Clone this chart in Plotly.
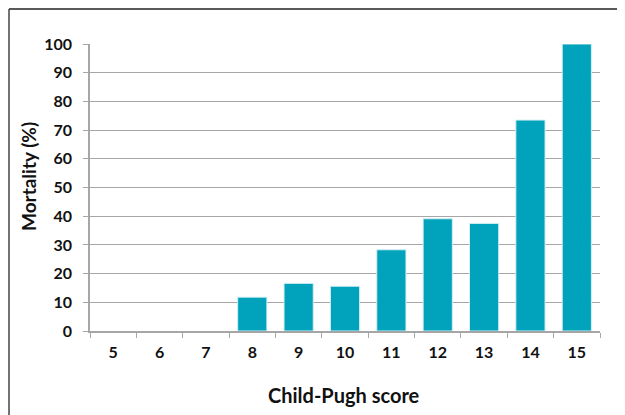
import plotly.graph_objects as go

scores = ["5", "6", "7", "8", "9", "10", "11", "12", "13", "14", "15"]
mortality = [0, 0, 0, 11.8, 16.6, 15.6, 28.3, 39.1, 37.5, 73.5, 100]
y_ticks = [0, 10, 20, 30, 40, 50, 60, 70, 80, 90, 100]

# page has an 8px body margin, so the figure is drawn 8px smaller and offset
W, H = 617, 407
ml, mr, mt, mb = 82, 25, 36, 84
pw, ph = W - ml - mr, H - mt - mb

fig = go.Figure(go.Bar(
    x=scores, y=mortality,
    marker=dict(color="#00A3BB",
                line=dict(color="#d6eef3", width=[1 if v > 0 else 0 for v in mortality])),
    width=0.63,
))

gray = "#a6a6a6"
fig.update_layout(
    width=W, height=H,
    margin=dict(l=ml, r=mr, t=mt, b=mb, autoexpand=False),
    paper_bgcolor="white", plot_bgcolor="white",
    font=dict(family="Lato, Open Sans, sans-serif", color="#111111"),
    showlegend=False,
    xaxis=dict(
        type="category",
        automargin=False,
        tickson="boundaries",
        ticks="outside", ticklen=5, tickcolor=gray, tickwidth=1.3,
        showline=True, linecolor=gray, linewidth=1.5,
        showgrid=False,
        tickfont=dict(size=16, family="Lato", weight="bold"),
        ticklabelstandoff=6,
    ),
    yaxis=dict(
        range=[0, 100],
        automargin=False,
        tickvals=y_ticks,
        ticks="outside", ticklen=5, tickcolor=gray, tickwidth=1.3,
        showline=True, linecolor=gray, linewidth=1.5,
        showgrid=True, gridcolor=gray, gridwidth=1.3,
        zeroline=False,
        tickfont=dict(size=16, family="Lato", weight="bold"),
        ticklabelstandoff=8,
    ),
)

fig.add_annotation(
    text="<b>Mortality (%)</b>", textangle=-90,
    xref="paper", yref="paper",
    x=(20 - ml) / pw, y=1 - (169 - mt) / ph,
    xanchor="center", yanchor="middle", showarrow=False,
    font=dict(size=19, family="Lato", color="#111111"),
)
fig.add_annotation(
    text="<b>Child-Pugh score</b>",
    xref="paper", yref="paper",
    x=(336 - ml) / pw, y=-(387 - mt - ph) / ph,
    xanchor="center", yanchor="middle", showarrow=False,
    font=dict(size=20, family="Lato", color="#111111"),
)

# outer frame (top and left edges visible in the reference)
x_left = (1 - ml) / pw
y_top = 1 + (mt - 1) / ph
y_bot = -(mb + 5) / ph
fig.add_shape(type="line", xref="paper", yref="paper",
              x0=x_left, x1=(W + 5 - ml) / pw, y0=y_top, y1=y_top,
              line=dict(color="#222222", width=1.5))
fig.add_shape(type="line", xref="paper", yref="paper",
              x0=x_left, x1=x_left, y0=y_top, y1=y_bot,
              line=dict(color="#444444", width=1.5))

fig.write_html("out.html")
